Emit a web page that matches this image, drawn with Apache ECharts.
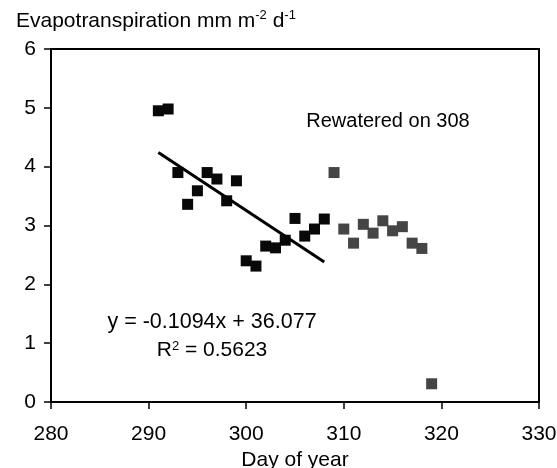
<!DOCTYPE html>
<html><head><meta charset="utf-8">
<script src="https://cdn.jsdelivr.net/npm/echarts@6/dist/echarts.min.js"></script>
<style>html,body{margin:0;padding:0;background:#fff}#c{width:557px;height:468px}</style>
</head><body><div id="c"></div>
<script>
// Before rewatering (black squares)
const preDays = [291,292,293,294,295,296,297,298,299,300,301,302,303,304,305,306,307,308];
const preET   = [4.95,4.98,3.90,3.36,3.59,3.90,3.79,3.42,3.76,2.40,2.31,2.65,2.62,2.75,3.12,2.82,2.94,3.11];
// After rewatering (grey squares)
const postDays = [309,310,311,312,313,314,315,316,317,318,319];
const postET   = [3.90,2.94,2.70,3.02,2.87,3.08,2.91,2.98,2.70,2.61,0.31];
// Linear trend line end points
const trendDays = [291, 308];
const trendET   = [4.24, 2.38];
// Axes
const xMin = 280, xMax = 330, xStep = 10;
const yMin = 0, yMax = 6, yStep = 1;
// Texts
const yTitle = 'Evapotranspiration mm m{sup|-2} d{sup|-1}';
const xTitle = 'Day of year';
const noteText = 'Rewatered on 308';
const eqText = 'y = -0.1094x + 36.077';
const r2Text = 'R{sup|2} = 0.5623';

const FF = "'Liberation Sans', Arial, sans-serif";
const zip = (a, b) => a.map((v, i) => [v, b[i]]);
const chart = echarts.init(document.getElementById('c'));
const supRich = { sup: { fontSize: 13, verticalAlign: 'top', fontFamily: FF, color: '#000' } };
chart.setOption({
  animation: false,
  backgroundColor: '#fff',
  title: {
    text: yTitle, left: 11, top: 4,
    textStyle: { fontSize: 21, fontWeight: 'normal', color: '#000', fontFamily: FF, lineHeight: 25, rich: supRich }
  },
  grid: { left: 51, right: 18, top: 49, bottom: 66, containLabel: false, outerBoundsMode: 'none',
          show: true, borderColor: '#000', borderWidth: 2, backgroundColor: 'transparent' },
  xAxis: {
    type: 'value', min: xMin, max: xMax, interval: xStep,
    name: xTitle, nameLocation: 'middle', nameGap: 40,
    nameTextStyle: { fontSize: 21, color: '#000', fontFamily: FF },
    axisLine: { show: true, onZero: false, lineStyle: { color: '#000', width: 2 } },
    axisTick: { show: true, inside: false, length: 7, lineStyle: { color: '#000', width: 1.5 } },
    axisLabel: { fontSize: 21, color: '#000', fontFamily: FF, margin: 22 },
    splitLine: { show: false }
  },
  yAxis: {
    type: 'value', min: yMin, max: yMax, interval: yStep,
    axisLine: { show: true, lineStyle: { color: '#000', width: 2 } },
    axisTick: { show: true, inside: false, length: 7, lineStyle: { color: '#000', width: 1.5 } },
    axisLabel: { fontSize: 21, color: '#000', fontFamily: FF, margin: 15 },
    splitLine: { show: false }
  },
  series: [
    { type: 'scatter', data: zip(preDays, preET), symbol: 'rect', symbolSize: 11, itemStyle: { color: '#080808', opacity: 1 }, z: 3 },
    { type: 'scatter', data: zip(postDays, postET), symbol: 'rect', symbolSize: 11, itemStyle: { color: '#454545', opacity: 1 }, z: 3 },
    { type: 'line', data: zip(trendDays, trendET), symbol: 'none', lineStyle: { color: '#000', width: 3 }, z: 4 }
  ],
  graphic: [
    { type: 'text', x: 388, y: 121, style: { text: noteText, fontSize: 20, fontFamily: FF, fill: '#000', align: 'center', verticalAlign: 'middle' } },
    { type: 'text', x: 212, y: 322, style: { text: eqText, fontSize: 21.5, fontFamily: FF, fill: '#000', align: 'center', verticalAlign: 'middle' } },
    { type: 'text', x: 212, y: 350, style: { text: r2Text, fontSize: 21, fontFamily: FF, fill: '#000', align: 'center', verticalAlign: 'middle', rich: supRich } }
  ]
});
</script>
</body></html>
